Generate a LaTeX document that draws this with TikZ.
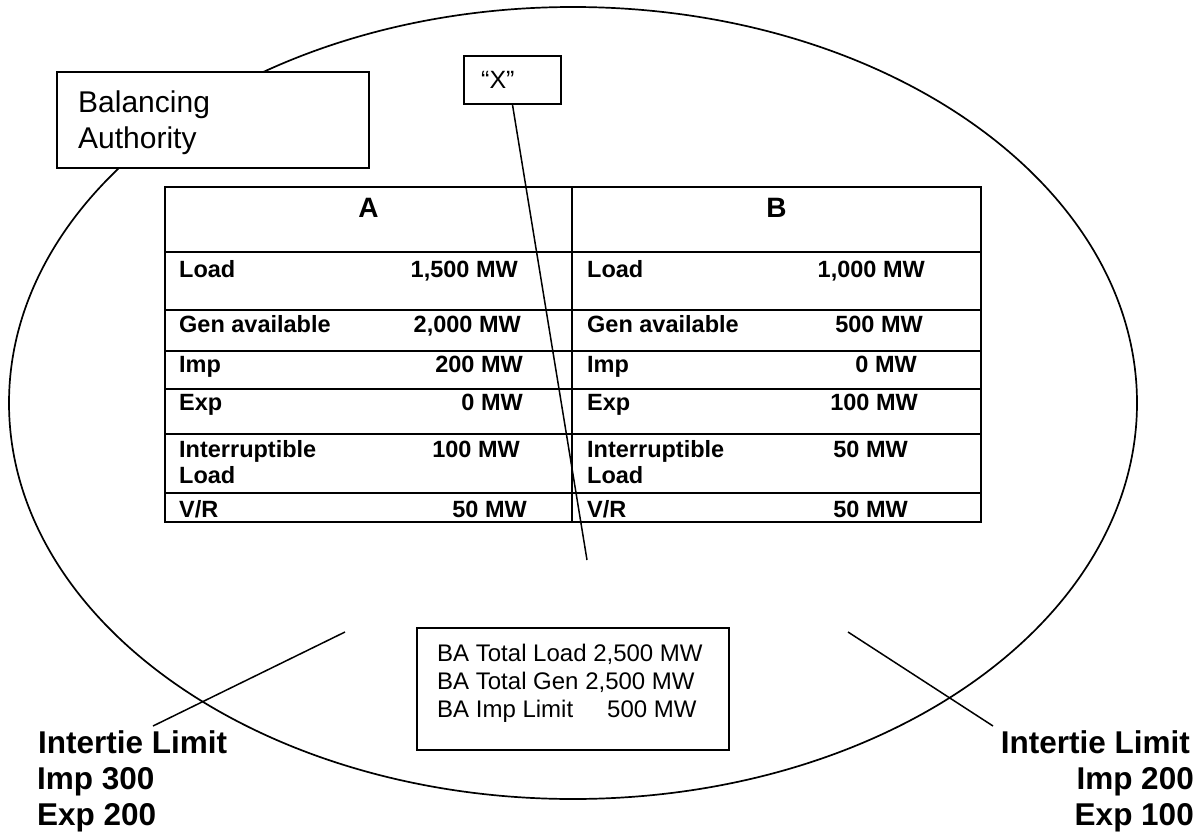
\documentclass[tikz,border=0pt]{standalone}
\usepackage{fontspec}
\setmainfont{Liberation Sans}
\usetikzlibrary{shapes.geometric}
\newcommand\setfs[1]{\fontsize{#1}{#1}\selectfont}
\begin{document}
\begin{tikzpicture}[x=1pt,y=-1pt,
  txt/.style={inner sep=0pt, anchor=base west},
  txtr/.style={inner sep=0pt, anchor=base east},
  cell/.style={txt, font=\setfs{23.5}\bfseries},
  cellr/.style={txtr, font=\setfs{23.5}\bfseries},
  head/.style={inner sep=0pt, anchor=base, font=\setfs{28}\bfseries},
  box/.style={draw, line width=1.6pt, fill=white, inner sep=0pt},
  conn/.style={line width=1.5pt},
  gridline/.style={line width=2pt},
  big/.style={inner sep=0pt, font=\setfs{31.5}\bfseries},
  plain/.style={txt, font=\setfs{24}}]
\useasboundingbox (0,0) rectangle (1204,832);
% region
\node[draw, ellipse, line width=1.7pt, minimum width=1128pt, minimum height=792pt, inner sep=0pt] (region) at (573,403) {};
% Balancing Authority box
\node[box, minimum width=312pt, minimum height=96pt] (ba) at (213,120) {};
\node[txt, font=\setfs{30}] (ba1) at (78,113) {Balancing};
\node[txt, font=\setfs{30}] (ba2) at (78,148) {Authority};
% X box
\node[box, minimum width=97pt, minimum height=48pt] (xbox) at (512.5,80) {};
\node[txt, font=\setfs{25}] (xlab) at (481,89) {“X”};
% table
\draw[gridline] (165,187) rectangle (981,522);
\draw[gridline] (572,187) -- (572,522);
\foreach \yy in {252,310,351,389,434,493}{\draw[gridline] (165,\yy) -- (981,\yy);}
\node[head] (hA) at (368.5,217) {A};
\node[head] (hB) at (776.5,217) {B};
% column A
\node[cell] (a1) at (179,277) {Load};
\node[cellr] (a1v) at (518,277) {1,500 MW};
\node[cell] (a2) at (179,332) {Gen available};
\node[cellr] (a2v) at (521,332) {2,000 MW};
\node[cell] (a3) at (179,372) {Imp};
\node[cellr] (a3v) at (523,372) {200 MW};
\node[cell] (a4) at (179,410) {Exp};
\node[cellr] (a4v) at (523,410) {0 MW};
\node[cell] (a5) at (179,457) {Interruptible};
\node[cell] (a5b) at (179,483) {Load};
\node[cellr] (a5v) at (520,457) {100 MW};
\node[cell] (a6) at (179,517) {V/R};
\node[cellr] (a6v) at (527,517) {50 MW};
% column B
\node[cell] (b1) at (587,277) {Load};
\node[cellr] (b1v) at (925,277) {1,000 MW};
\node[cell] (b2) at (587,332) {Gen available};
\node[cellr] (b2v) at (923,332) {500 MW};
\node[cell] (b3) at (587,372) {Imp};
\node[cellr] (b3v) at (917,372) {0 MW};
\node[cell] (b4) at (587,410) {Exp};
\node[cellr] (b4v) at (918,410) {100 MW};
\node[cell] (b5) at (587,457) {Interruptible};
\node[cell] (b5b) at (587,483) {Load};
\node[cellr] (b5v) at (908,457) {50 MW};
\node[cell] (b6) at (587,517) {V/R};
\node[cellr] (b6v) at (908,517) {50 MW};
% X connector
\coordinate (xend) at (587,560);
\draw[conn] (xbox.south) -- (xend);
% BA totals box
\node[box, minimum width=312pt, minimum height=122pt] (tot) at (573,689) {};
\node[plain] (t1) at (437,661) {BA Total Load 2,500 MW};
\node[plain] (t2) at (437,689) {BA Total Gen 2,500 MW};
\node[plain] (t3) at (437,717) {BA Imp Limit};
\node[plain] (t3v) at (607,717) {500 MW};
% interties
\coordinate (lA) at (153,726);
\coordinate (lB) at (345,632);
\draw[conn] (lA) -- (lB);
\coordinate (rA) at (848,632);
\coordinate (rB) at (993,726);
\draw[conn] (rA) -- (rB);
\node[big, anchor=base west] (il1) at (38,753) {Intertie Limit};
\node[big, anchor=base west] (il2) at (37,789) {Imp 300};
\node[big, anchor=base west] (il3) at (37,825) {Exp 200};
\node[big, anchor=base east] (ir1) at (1190,753) {Intertie Limit};
\node[big, anchor=base east] (ir2) at (1194,789) {Imp 200};
\node[big, anchor=base east] (ir3) at (1194,825) {Exp 100};
\end{tikzpicture}
\end{document}
